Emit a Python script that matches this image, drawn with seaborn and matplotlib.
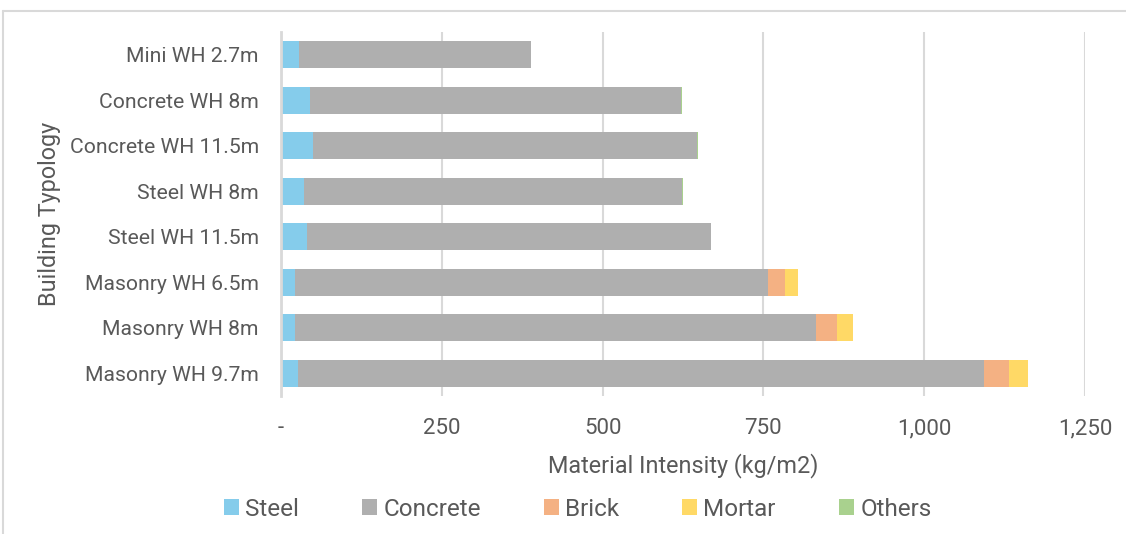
import matplotlib
matplotlib.use("Agg")
import matplotlib.pyplot as plt
from matplotlib.patches import Patch
from matplotlib.lines import Line2D
from matplotlib.ticker import FixedLocator, FuncFormatter
import numpy as np
import pandas as pd
import seaborn as sns

# Material intensity per building typology (kg/m2)
typologies = ["Mini WH 2.7m", "Concrete WH 8m", "Concrete WH 11.5m", "Steel WH 8m",
              "Steel WH 11.5m", "Masonry WH 6.5m", "Masonry WH 8m", "Masonry WH 9.7m"]
steel = [28, 45, 50, 36, 41, 21, 22, 26]
concrete = [361, 577, 597, 588, 627, 736, 810, 1067]
brick = [0, 0, 0, 0, 0, 27, 32, 39]
mortar = [0, 0, 0, 0, 0, 20, 25, 29]
others = [0, 2, 2, 1, 1, 0, 1, 0]

materials = ["Steel", "Concrete", "Brick", "Mortar", "Others"]
colors = ["#85CCEB", "#AFAFAF", "#F4B183", "#FFD966", "#A9D18E"]
x_ticks = [0, 250, 500, 750, 1000, 1250]

sns.set_theme(style="white")
plt.rcParams["font.family"] = ["Roboto", "DejaVu Sans"]
text_color = "#595959"
grid_color = "#D9D9D9"

df = pd.DataFrame({"Typology": typologies, "Steel": steel, "Concrete": concrete,
                   "Brick": brick, "Mortar": mortar, "Others": others})
cum = df[materials].cumsum(axis=1)

fig = plt.figure(figsize=(11.26, 5.34), dpi=100)
ax = fig.add_axes([281 / 1126, 1 - 396 / 534, 804 / 1126, 364 / 534])

# Stacked bars: draw cumulative totals from the outermost layer inward
for mat, col in reversed(list(zip(materials, colors))):
    sns.barplot(data=cum.assign(Typology=df["Typology"]), x=mat, y="Typology",
                orient="h", order=typologies, color=col, saturation=1,
                width=0.6, edgecolor="none", linewidth=0, ax=ax, zorder=3)

ax.set_xlim(0, 1250)
ax.xaxis.set_major_locator(FixedLocator(x_ticks))
ax.xaxis.set_major_formatter(FuncFormatter(lambda v, p: "-" if v == 0 else f"{int(v):,}"))
ax.grid(axis="x", color=grid_color, linewidth=1.5, zorder=0)
ax.set_axisbelow(True)

for side in ["top", "right", "bottom"]:
    ax.spines[side].set_visible(False)
ax.spines["left"].set_color(grid_color)
ax.spines["left"].set_linewidth(2)
ax.spines["left"].set_zorder(4)

ax.tick_params(axis="both", length=0, colors=text_color)
ax.tick_params(axis="y", labelsize=15.2, pad=16)
ax.tick_params(axis="x", labelsize=16, pad=16)

ax.set_xlabel("Material Intensity (kg/m2)", color=text_color, fontsize=16.8, labelpad=10)
ax.set_ylabel("Building Typology", color=text_color, fontsize=16.8, labelpad=6)

handles = [Patch(facecolor=c, edgecolor="none", label=m) for m, c in zip(materials, colors)]
leg = fig.legend(handles=handles, loc="center", bbox_to_anchor=(0.513, 1 - 509 / 534),
                 ncol=5, frameon=False, fontsize=17.5, handlelength=0.62, handleheight=0.62,
                 handletextpad=0.25, columnspacing=2.6)
for t in leg.get_texts():
    t.set_color(text_color)

# Chart frame
fig.add_artist(Line2D([3 / 1126, 1.0], [1 - 11 / 534, 1 - 11 / 534],
                      transform=fig.transFigure, color=grid_color, linewidth=1.5))
fig.add_artist(Line2D([3 / 1126, 3 / 1126], [1 - 11 / 534, 0.0],
                      transform=fig.transFigure, color=grid_color, linewidth=1.5))

fig.savefig("out.png", dpi=100, facecolor="white")
